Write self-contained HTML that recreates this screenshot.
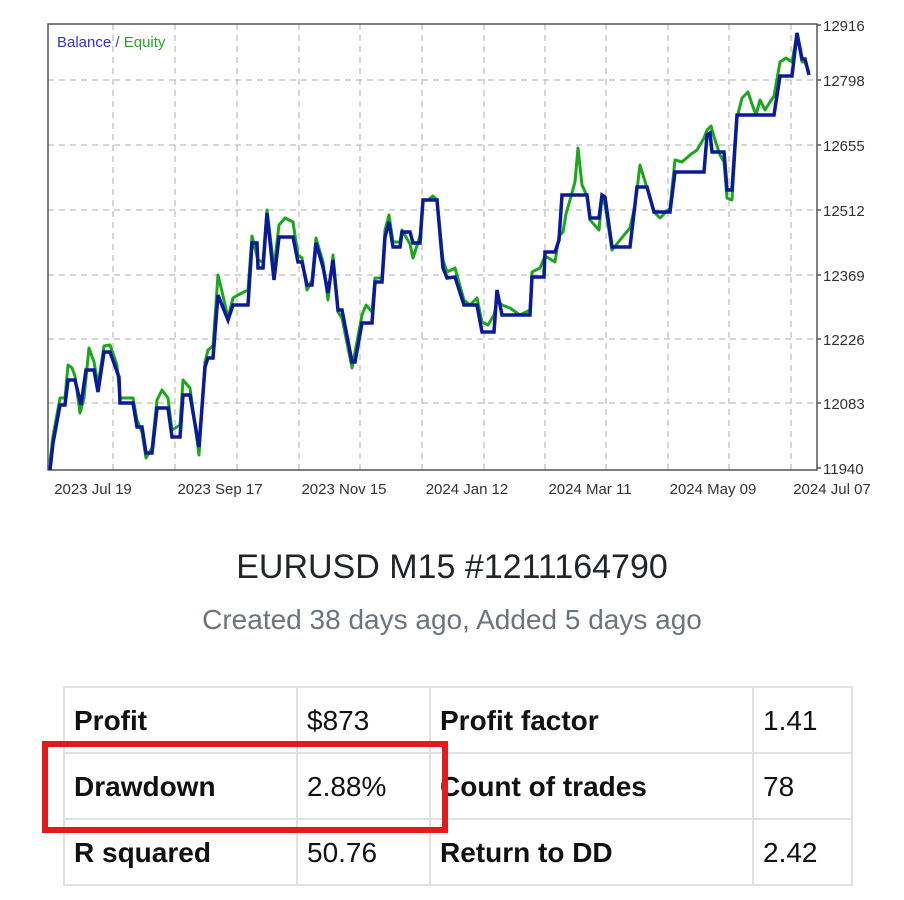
<!DOCTYPE html>
<html><head><meta charset="utf-8"><style>
html,body{margin:0;padding:0;background:#fff;}
body{width:904px;height:900px;position:relative;overflow:hidden;font-family:"Liberation Sans",sans-serif;}
svg{position:absolute;left:0;top:0;}
.t{position:absolute;left:0;width:904px;text-align:center;}
table{position:absolute;left:63px;top:686px;border-collapse:collapse;}
td{border:2px solid #dee2e6;height:66px;padding:2px 0 0 9px;font-size:28px;color:#111;box-sizing:border-box;}
td.b{font-weight:bold;}
</style></head><body>
<svg width="904" height="510" font-family="Liberation Sans" font-size="15" fill="#333">
<g stroke="#c8c8c8" stroke-width="1.5" stroke-dasharray="6,5">
<line x1="48" y1="80" x2="817" y2="80"/><line x1="48" y1="145" x2="817" y2="145"/><line x1="48" y1="210" x2="817" y2="210"/><line x1="48" y1="275" x2="817" y2="275"/><line x1="48" y1="339" x2="817" y2="339"/><line x1="48" y1="403" x2="817" y2="403"/>
<line x1="113" y1="24" x2="113" y2="470"/><line x1="175" y1="24" x2="175" y2="470"/><line x1="237" y1="24" x2="237" y2="470"/><line x1="299" y1="24" x2="299" y2="470"/><line x1="360" y1="24" x2="360" y2="470"/><line x1="422" y1="24" x2="422" y2="470"/><line x1="484" y1="24" x2="484" y2="470"/><line x1="545" y1="24" x2="545" y2="470"/><line x1="606" y1="24" x2="606" y2="470"/><line x1="668" y1="24" x2="668" y2="470"/><line x1="729" y1="24" x2="729" y2="470"/><line x1="791" y1="24" x2="791" y2="470"/>
</g>
<rect x="48" y="24" width="769" height="446" fill="none" stroke="#555" stroke-width="1.5"/>
<g stroke="#555" stroke-width="1.5"><line x1="817" y1="25" x2="821" y2="25"/><line x1="817" y1="80" x2="821" y2="80"/><line x1="817" y1="145" x2="821" y2="145"/><line x1="817" y1="210" x2="821" y2="210"/><line x1="817" y1="275" x2="821" y2="275"/><line x1="817" y1="339" x2="821" y2="339"/><line x1="817" y1="403" x2="821" y2="403"/><line x1="817" y1="468" x2="821" y2="468"/></g>
<g>
<text x="823" y="31">12916</text><text x="823" y="86">12798</text><text x="823" y="151">12655</text><text x="823" y="216">12512</text><text x="823" y="281">12369</text><text x="823" y="345">12226</text><text x="823" y="409">12083</text><text x="823" y="474">11940</text>
</g>
<g text-anchor="middle">
<text x="93" y="494">2023 Jul 19</text><text x="220" y="494">2023 Sep 17</text><text x="344" y="494">2023 Nov 15</text><text x="467" y="494">2024 Jan 12</text><text x="590" y="494">2024 Mar 11</text><text x="713" y="494">2024 May 09</text><text x="832" y="494">2024 Jul 07</text>
</g>
<text x="57" y="47"><tspan fill="#3333bb">Balance</tspan><tspan fill="#555"> / </tspan><tspan fill="#22aa22">Equity</tspan></text>
<polyline fill="none" stroke="#1aa81a" stroke-width="3" stroke-linejoin="round" points="50,462 53,436 60,398 65,398 68,365 72,368 75,376 80,413 84,398 89,348 94,362 98,385 104,346 110,345 117,365 120,398 133,398 137,420 142,432 146,458 152,448 157,400 162,390 168,398 172,430 180,425 183,380 190,388 199,455 205,362 208,350 213,346 218,275 224,300 228,318 233,298 238,295 248,290 252,236 258,260 263,262 267,210 274,268 279,225 285,218 293,222 298,255 302,258 307,290 312,280 316,238 323,262 328,300 333,255 338,312 342,318 352,368 355,352 362,315 366,305 372,312 375,278 382,278 385,230 389,215 393,242 400,242 402,230 410,244 413,258 420,236 423,200 428,200 433,196 437,200 443,260 447,272 455,268 464,300 470,305 477,298 482,322 488,325 494,315 497,300 502,305 510,308 520,315 530,310 532,272 540,268 545,256 555,262 559,236 563,232 566,214 570,200 575,182 578,148 582,185 587,196 590,220 599,230 602,196 605,205 612,250 620,240 630,228 634,210 637,190 640,165 647,188 654,212 660,218 670,208 675,160 682,162 690,155 697,150 704,138 707,130 711,126 715,140 720,155 724,162 727,198 732,200 737,118 742,98 748,92 752,104 756,115 760,100 765,110 770,102 774,96 780,62 786,58 792,62 797,34 802,62 805,62 809,72"/>
<polyline fill="none" stroke="#0a1a9a" stroke-width="3.5" stroke-linejoin="miter" points="50,470 53,443 60,405 65,405 68,380 75,380 81,405 86,370 94,370 98,392 104,352 110,352 119,377 120,403 133,403 137,427 142,427 146,453 152,453 157,408 168,408 172,437 180,437 183,395 190,395 199,447 205,367 208,358 213,358 218,295 228,320 233,305 248,305 252,243 257,243 258,268 263,268 267,213 274,280 279,237 293,237 298,262 302,262 307,285 312,285 316,243 323,267 328,293 333,260 338,310 342,310 352,362 355,362 362,323 372,323 375,282 382,282 385,237 389,222 393,247 400,247 402,232 410,232 413,243 420,243 423,200 437,200 443,268 447,278 455,277 464,305 477,305 482,332 494,332 497,290 502,315 530,315 532,277 544,277 545,252 555,252 559,240 562,195 587,195 590,218 599,218 602,195 605,197 612,247 630,247 634,213 637,187 647,187 654,212 670,212 675,172 704,172 707,135 710,133 712,152 724,152 727,190 732,190 737,115 774,115 780,76 792,76 797,33 802,59 805,59 809,75"/>
</svg>
<div class="t" style="top:548px;font-size:34px;color:#212529;">EURUSD M15 #1211164790</div>
<div class="t" style="top:604px;font-size:28px;color:#6c757d;">Created 38 days ago, Added 5 days ago</div>
<table>
<tr><td class="b" style="width:233px">Profit</td><td style="width:133px">$873</td><td class="b" style="width:323px">Profit factor</td><td style="width:99px">1.41</td></tr>
<tr><td class="b">Drawdown</td><td>2.88%</td><td class="b">Count of trades</td><td>78</td></tr>
<tr><td class="b">R squared</td><td>50.76</td><td class="b">Return to DD</td><td>2.42</td></tr>
</table>
<div style="position:absolute;left:42px;top:741px;width:394px;height:80px;border:6px solid #e31b1b;"></div>
</body></html>
